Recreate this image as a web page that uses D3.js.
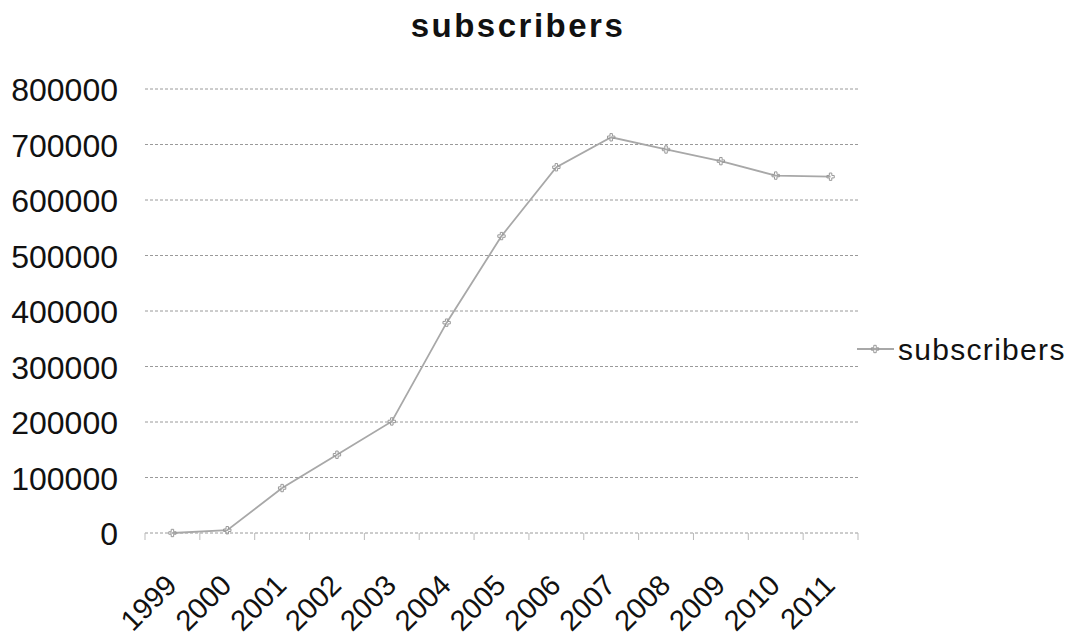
<!DOCTYPE html>
<html>
<head>
<meta charset="utf-8">
<script src="https://cdn.jsdelivr.net/npm/d3@7"></script>
<style>
  body { margin: 0; background: #fff; }
  text { font-family: "Liberation Sans", Arial, sans-serif; fill: #111; }
</style>
</head>
<body>
<svg id="chart" width="1072" height="639"></svg>
<script>
"use strict";

var years = ["1999", "2000", "2001", "2002", "2003", "2004", "2005", "2006", "2007", "2008", "2009", "2010", "2011"];
var subscribers = [0, 5000, 81000, 141000, 201000, 379000, 535000, 659000, 713000, 691000, 670000, 644000, 642000];
var yTicks = [0, 100000, 200000, 300000, 400000, 500000, 600000, 700000, 800000];
var seriesName = "subscribers";

var svg = d3.select("#chart");
var margin = { left: 145, right: 214, top: 89, bottom: 106 };
var width = 1072 - margin.left - margin.right;
var height = 639 - margin.top - margin.bottom;

var x = d3.scaleBand().domain(years).range([0, width]).padding(0);
var y = d3.scaleLinear().domain([0, 800000]).range([height, 0]);

var g = svg.append("g").attr("transform", "translate(" + margin.left + "," + margin.top + ")");

// title
svg.append("text")
  .attr("x", 518)
  .attr("y", 37)
  .attr("text-anchor", "middle")
  .style("font-size", "33px")
  .style("font-weight", "bold")
  .style("letter-spacing", "2.5px")
  .text(seriesName);

// gridlines
g.append("g")
  .selectAll("line")
  .data(yTicks)
  .enter()
  .append("line")
  .attr("x1", 0)
  .attr("x2", width)
  .attr("y1", function (d) { return y(d); })
  .attr("y2", function (d) { return y(d); })
  .attr("stroke", "#9a9a9a")
  .attr("stroke-width", 1)
  .attr("stroke-dasharray", "3,2");

// y labels
var yAxis = g.append("g")
  .call(d3.axisLeft(y).tickValues(yTicks).tickFormat(d3.format("d")).tickSize(0).tickPadding(27));
yAxis.select(".domain").remove();
yAxis.selectAll("text")
  .style("font-size", "32px")
  .style("font-family", "'Liberation Sans', Arial, sans-serif")
  .attr("fill", "#111")
  .attr("dy", "0.36em");

// x axis, labels turned -45deg, ticks sit on the category boundaries
var xAxis = g.append("g")
  .attr("transform", "translate(0," + height + ")")
  .call(d3.axisBottom(x).tickSize(0).tickPadding(0));
xAxis.select(".domain").remove();
xAxis.selectAll("text")
  .style("font-size", "29px")
  .style("font-family", "'Liberation Sans', Arial, sans-serif")
  .attr("fill", "#111")
  .attr("text-anchor", "end")
  .attr("dy", null)
  .attr("y", 0)
  .attr("transform", "translate(6,54) rotate(-45)");

g.append("g")
  .selectAll("line")
  .data(d3.range(years.length + 1))
  .enter()
  .append("line")
  .attr("x1", function (i) { return i * x.step(); })
  .attr("x2", function (i) { return i * x.step(); })
  .attr("y1", height)
  .attr("y2", height + 7)
  .attr("stroke", "#bbb")
  .attr("stroke-width", 1);

// series line
var line = d3.line()
  .x(function (d, i) { return x(years[i]) + x.bandwidth() / 2; })
  .y(function (d) { return y(d); });

g.append("path")
  .datum(subscribers)
  .attr("d", line)
  .attr("fill", "none")
  .attr("stroke", "#a8a8a8")
  .attr("stroke-width", 1.8);

var marker = d3.symbol().type(d3.symbolCross).size(30);
g.append("g")
  .selectAll("path")
  .data(subscribers)
  .enter()
  .append("path")
  .attr("d", marker)
  .attr("transform", function (d, i) {
    return "translate(" + (x(years[i]) + x.bandwidth() / 2) + "," + y(d) + ")";
  })
  .attr("fill", "none")
  .attr("stroke", "#999")
  .attr("stroke-width", 1);

// legend
var legend = svg.append("g").attr("transform", "translate(857,349)");
legend.append("line")
  .attr("x1", 0).attr("x2", 37)
  .attr("y1", 0).attr("y2", 0)
  .attr("stroke", "#a8a8a8")
  .attr("stroke-width", 1.8);
legend.append("path")
  .attr("d", marker)
  .attr("transform", "translate(18,0)")
  .attr("fill", "none")
  .attr("stroke", "#999");
legend.append("text")
  .attr("x", 41)
  .attr("y", 0)
  .attr("dy", "0.36em")
  .style("font-size", "30px")
  .style("letter-spacing", "1.3px")
  .text(seriesName);
</script>
</body>
</html>
